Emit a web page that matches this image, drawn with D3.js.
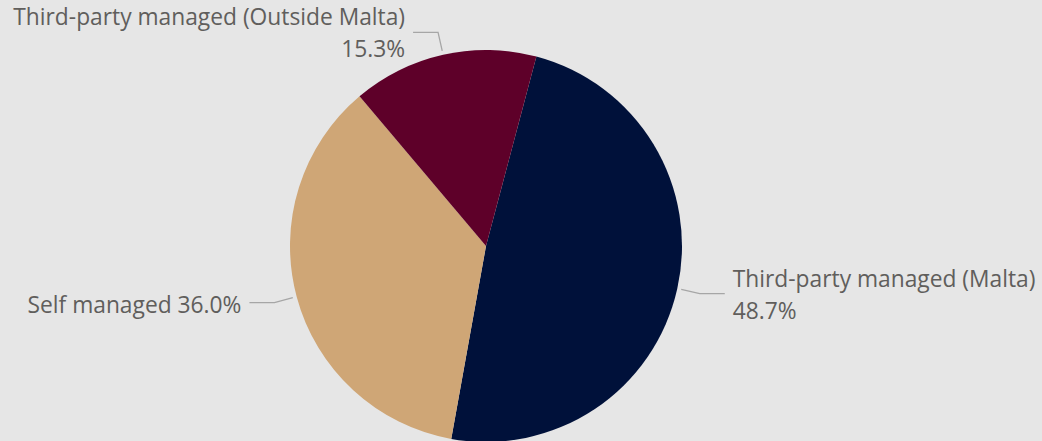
<!DOCTYPE html>
<html>
<head>
<meta charset="utf-8">
<script src="https://cdn.jsdelivr.net/npm/d3@7"></script>
<style>
  html, body { margin: 0; padding: 0; background: #e6e6e6; }
  svg { display: block; }
  text { font-family: "Open Sans", "Noto Sans", sans-serif; fill: #605e5c; }
</style>
</head>
<body>
<svg id="chart" width="1042" height="441"></svg>
<script>
// Share of funds by management type (percent)
const categories = ["Third-party managed (Malta)", "Self managed", "Third-party managed (Outside Malta)"];
const shares = [48.7, 36.0, 15.3];
const sliceColors = ["#00113a", "#cfa676", "#5e0029"];

const width = 1042, height = 441;
const cx = 486, cy = 246, radius = 196;
const startAngle = 0.26;

const svg = d3.select("#chart");
const data = categories.map((c, i) => ({ name: c, value: shares[i], color: sliceColors[i] }));

const pie = d3.pie().sort(null).value(d => d.value)
  .startAngle(startAngle).endAngle(startAngle + 2 * Math.PI);
const arcs = pie(data);
const arc = d3.arc().innerRadius(0).outerRadius(radius);

const g = svg.append("g").attr("transform", `translate(${cx},${cy})`);
g.selectAll("path.slice").data(arcs).enter().append("path")
  .attr("class", "slice")
  .attr("d", arc)
  .attr("fill", d => d.data.color);

// font size chosen so the longest label spans its intended width
const probe = svg.append("text").attr("font-size", 20).text(categories[2]);
const w20 = probe.node().getComputedTextLength();
probe.remove();
const fontSize = 20 * 392 / w20;

const lineArcStart = d3.arc().innerRadius(radius + 4).outerRadius(radius + 4);
const lineArcElbow = d3.arc().innerRadius(radius + 23).outerRadius(radius + 23);
const tail = 25, gap = 8, lineHeight = 32;

const fmt = v => v.toFixed(1) + "%";

arcs.forEach(d => {
  const mid = (d.startAngle + d.endAngle) / 2;
  const p0 = lineArcStart.centroid(d);
  const p1 = lineArcElbow.centroid(d);
  const right = Math.sin(mid) > 0;
  const p2 = [p1[0] + (right ? tail : -tail), p1[1]];
  g.append("polyline")
    .attr("points", [p0, p1, p2].map(p => p.join(",")).join(" "))
    .attr("fill", "none")
    .attr("stroke", "#a6a6a6")
    .attr("stroke-width", 1.3);

  const lines = d.data.name.length < 15
    ? [d.data.name + " " + fmt(d.data.value)]
    : [d.data.name, fmt(d.data.value)];
  const tx = p2[0] + (right ? gap : -gap);
  const firstBaseline = lines.length === 1 ? p2[1] + 10 : p2[1] - 7;
  const t = g.append("text")
    .attr("font-size", fontSize)
    .attr("text-anchor", right ? "start" : "end");
  lines.forEach((s, i) => {
    t.append("tspan").attr("x", tx).attr("y", firstBaseline + i * lineHeight).text(s);
  });
});
</script>
</body>
</html>
